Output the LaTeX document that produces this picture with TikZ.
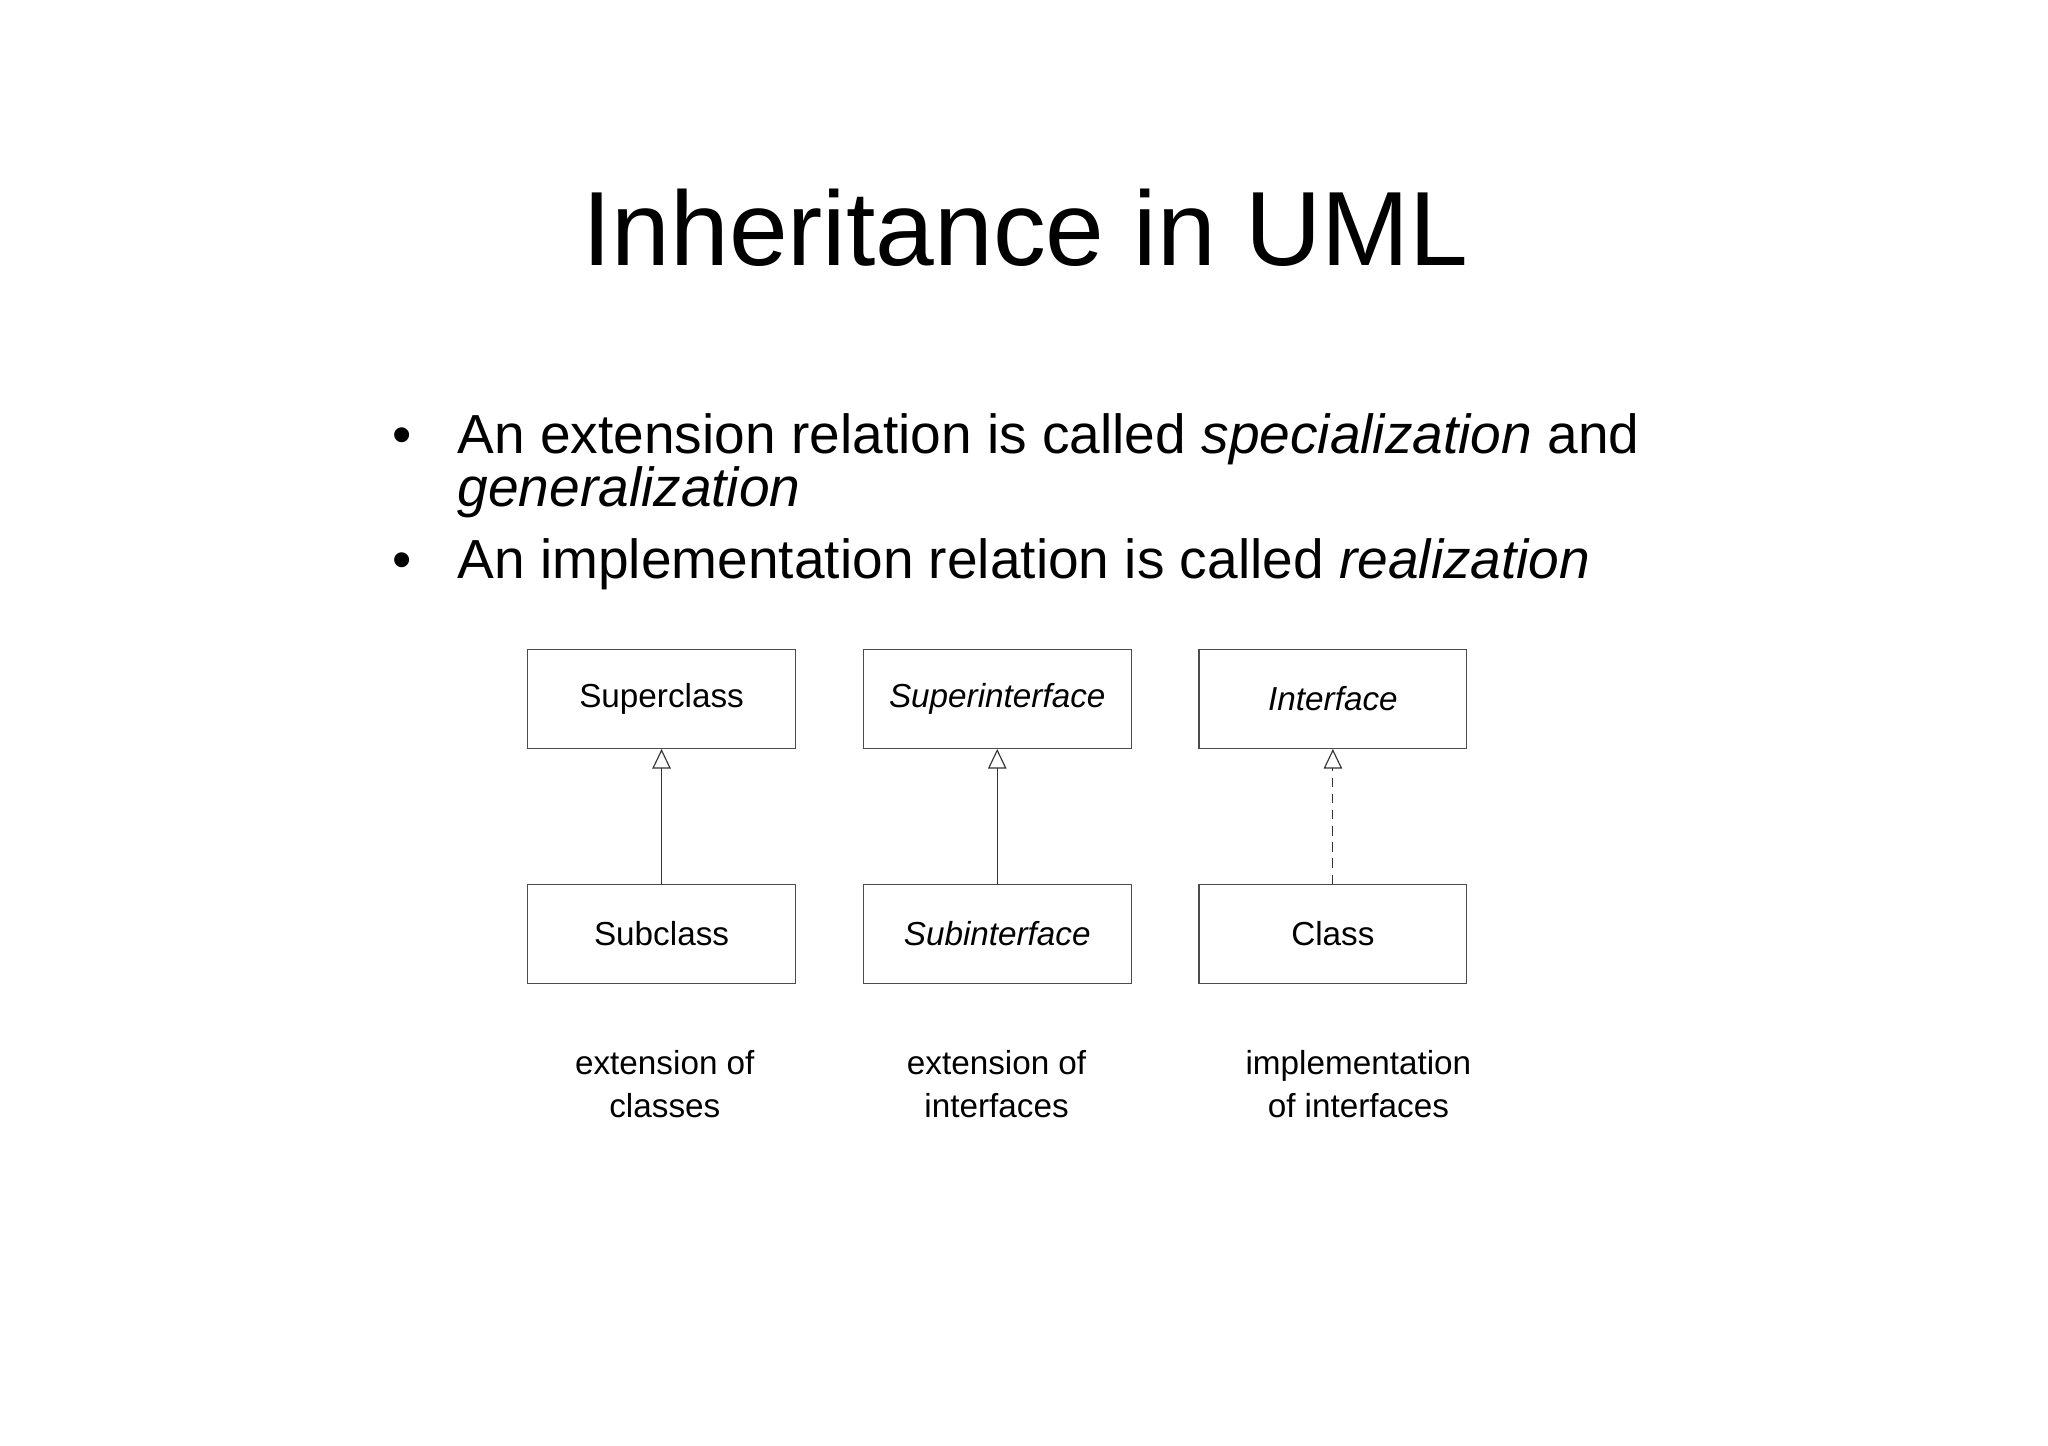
\documentclass[tikz,border=0pt]{standalone}
\usepackage{fontspec}
\setmainfont{Liberation Sans}
\usetikzlibrary{arrows.meta}
\begin{document}
\begin{tikzpicture}[x=0.02cm,y=-0.02cm,
  umlbox/.style={draw=black!70,line width=0.5pt,minimum width=205*0.02cm,minimum height=76*0.02cm,inner sep=0pt,font=\fontsize{14.5}{17}\selectfont},
  captext/.style={align=center,font=\fontsize{14.5}{18.5}\selectfont},
  inh/.style={-{Triangle[open,length=8.5pt,width=8pt]},line width=0.5pt,draw=black!80},
  btxt/.style={anchor=base west,inner sep=0pt,font=\fontsize{24}{24}\selectfont}]
\useasboundingbox (0,0) rectangle (1568,1107);
\node[anchor=base,inner sep=0pt,font=\fontsize{46}{46}\selectfont] (title) at (785,203) {Inheritance in UML};
\node[btxt] (b1) at (300,347) {•};
\node[btxt] (l1) at (350,347) {An extension relation is called \textit{specialization} and};
\node[btxt] (l2) at (350,388) {\textit{generalization}};
\node[btxt] (b2) at (300,443) {•};
\node[btxt] (l3) at (350,443) {An implementation relation is called \textit{realization}};
\node[umlbox] (sup) at (506.5,535) {Superclass};
\node[umlbox] (sub) at (506.5,715) {Subclass};
\node[umlbox] (si) at (763.5,535) {\textit{Superinterface}};
\node[umlbox] (sbi) at (763.5,715) {\textit{Subinterface}};
\node[umlbox] (itf) at (1020.5,535) {\textit{Interface}};
\node[umlbox] (cls) at (1020.5,715) {Class};
\draw[inh] (sub.north) -- (sup.south);
\draw[inh] (sbi.north) -- (si.south);
\draw[inh,dash pattern=on 4pt off 3pt] (cls.north) -- (itf.south);
\node[captext] (c1) at (509,830) {extension of\\classes};
\node[captext] (c2) at (763,830) {extension of\\interfaces};
\node[captext] (c3) at (1040,830) {implementation\\of interfaces};
\end{tikzpicture}
\end{document}
